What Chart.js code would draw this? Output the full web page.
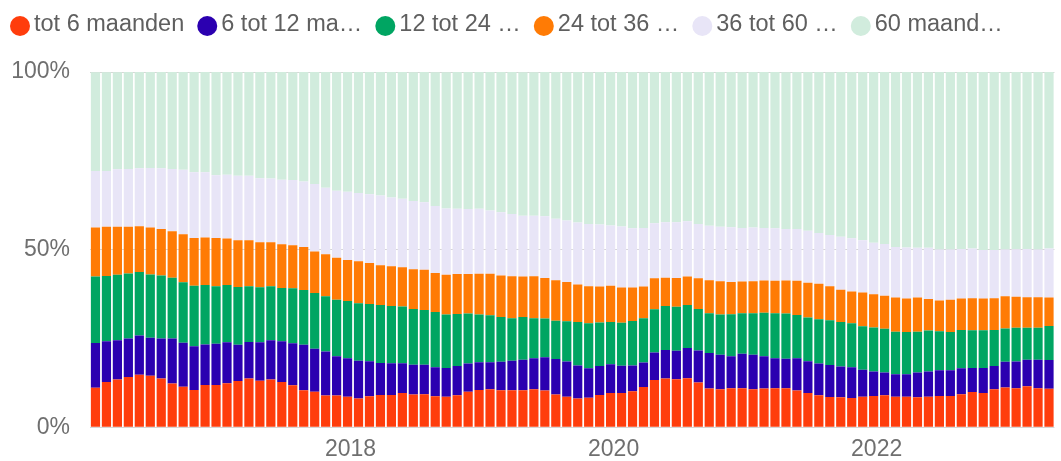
<!DOCTYPE html>
<html>
<head>
<meta charset="utf-8">
<script src="https://cdn.jsdelivr.net/npm/chart.js@4.4.0/dist/chart.umd.min.js"></script>
<style>
  html, body { margin: 0; padding: 0; background: #fff; }
  #wrap { width: 1061px; height: 461px; position: relative; }
</style>
</head>
<body>
<div id="wrap"><canvas id="grafiek"></canvas></div>
<script>
// aandeel per duurklasse (%), maandelijks vanaf februari 2016
const totZes = [11.1,12.7,13.4,14.1,14.8,14.5,13.7,12.3,11.4,10.5,
  11.9,11.9,12.4,13.0,13.7,13.1,13.4,12.7,11.8,10.4,
  10.0,8.9,8.9,8.6,8.1,8.7,9.1,9.1,9.6,9.2,
  9.3,8.7,8.6,9.0,10.0,10.5,10.7,10.4,10.4,10.4,
  10.7,10.3,9.2,8.6,8.1,8.3,9.1,9.6,9.6,10.1,
  11.3,13.3,13.7,13.5,13.8,12.6,10.9,10.7,11.0,11.0,
  10.7,10.9,11.0,11.0,10.3,9.6,9.0,8.5,8.4,8.2,
  8.6,8.8,9.0,8.6,8.6,8.4,8.6,8.8,8.8,9.3,
  9.9,9.6,10.7,11.2,11.0,11.5,11.0,10.8];
const zesTotTwaalf = [12.6,11.5,11.1,10.9,11.0,10.7,11.3,12.7,12.4,12.3,
  11.4,11.6,11.5,10.2,10.3,10.8,11.1,11.5,11.8,12.8,
  12.1,12.4,11.1,10.8,10.6,9.9,9.0,8.9,8.4,8.4,
  8.3,8.2,8.1,8.2,7.9,7.8,7.6,8.0,8.3,8.6,
  8.7,9.4,10.0,9.9,9.3,8.3,8.1,8.1,7.7,7.3,
  6.9,7.7,8.0,8.0,8.5,9.0,10.0,9.7,9.0,9.7,
  9.7,9.1,8.4,8.3,9.1,9.0,8.9,9.0,8.7,8.7,
  7.6,6.9,6.4,6.3,6.3,7.0,7.1,7.2,7.2,7.3,
  6.8,7.1,6.5,7.2,7.5,7.5,8.0,8.1];
const twaalfTot24 = [18.7,18.4,18.4,18.3,17.9,17.8,17.7,17.1,17.0,17.0,
  16.7,16.2,16.1,16.3,15.7,15.5,15.2,15.0,15.5,15.4,
  15.7,15.6,15.9,16.1,16.2,16.1,16.3,16.1,16.0,15.7,
  15.4,15.5,15.0,14.7,14.1,13.4,13.2,12.6,12.0,12.0,
  11.3,10.9,10.8,11.3,12.2,12.7,12.3,11.9,12.1,12.5,
  12.5,12.2,12.4,12.4,12.1,11.7,11.2,11.3,11.8,11.4,
  11.7,12.2,12.7,12.7,12.2,12.3,12.5,12.6,12.5,12.4,
  12.2,12.4,12.3,12.0,11.9,11.5,11.5,11.0,10.8,10.8,
  10.6,10.6,10.2,9.4,9.5,9.0,9.0,9.6];
const tot36 = [13.8,13.8,13.5,13.1,12.9,13.2,13.1,13.1,13.5,13.5,
  13.4,13.6,13.1,13.1,12.9,12.7,12.4,12.3,12.1,12.1,
  11.7,11.8,11.8,11.6,11.8,11.5,11.2,11.2,11.0,11.2,
  11.3,11.0,11.2,11.2,11.1,11.5,11.7,11.7,11.8,11.4,
  11.8,11.4,11.4,11.1,10.6,10.4,10.1,10.2,9.9,9.4,
  8.9,8.7,8.0,8.1,8.0,8.6,9.3,9.4,9.1,8.9,
  9.0,9.1,9.1,9.3,9.6,9.8,10.0,9.6,9.1,8.9,
  9.5,9.3,9.3,9.6,9.4,9.6,8.9,8.7,9.1,8.8,
  9.0,8.9,8.9,9.1,8.7,8.6,8.6,8.0];
const tot60 = [15.9,15.7,16.2,16.3,16.3,16.8,17.1,17.5,18.2,18.5,
  18.4,17.6,18.0,18.2,18.2,18.0,17.9,18.2,18.4,18.5,
  19.0,18.7,18.9,19.2,19.2,19.4,19.6,19.4,19.3,19.2,
  19.0,18.9,18.7,18.4,18.3,18.3,17.8,17.8,17.5,17.1,
  17.0,17.4,17.3,17.3,17.4,17.5,17.5,17.0,17.2,16.7,
  16.5,15.5,15.6,15.7,15.6,15.3,15.3,15.3,15.4,15.1,
  15.1,14.8,14.8,14.5,14.6,14.6,14.3,14.4,14.9,15.0,
  14.7,14.5,14.6,14.2,14.4,14.0,14.4,14.3,14.1,14.0,
  14.0,13.7,13.6,13.1,13.4,13.6,13.4,13.8];
const zestigPlus = [27.8,27.8,27.3,27.3,27.1,27.1,27.1,27.3,27.5,28.2,
  28.3,29.1,28.9,29.2,29.2,29.9,30.1,30.3,30.3,30.8,
  31.5,32.6,33.3,33.7,34.2,34.4,34.8,35.3,35.8,36.2,
  36.7,37.6,38.3,38.5,38.6,38.6,39.1,39.5,40.0,40.4,
  40.4,40.6,41.3,41.7,42.4,42.7,43.0,43.2,43.5,44.1,
  43.8,42.6,42.4,42.4,42.0,42.8,43.4,43.6,43.8,43.8,
  43.8,44.0,44.0,44.1,44.2,44.7,45.3,45.8,46.4,46.8,
  47.5,48.1,48.5,49.4,49.4,49.4,49.4,50.0,50.0,49.8,
  49.7,50.1,50.2,50.0,49.9,49.8,50.0,49.8];

const legendeLabels = ['tot 6 maanden', '6 tot 12 ma\u2026', '12 tot 24 \u2026', '24 tot 36 \u2026', '36 tot 60 \u2026', '60 maand\u2026'];
const kleuren = ['#ff3d0c', '#2b00b0', '#00a562', '#ff7b05', '#e8e5f7', '#d1ecdd'];
const jaarLabels = ['2018', '2020', '2022'];
const yLabels = ['0%', '50%', '100%'];

// categorieen: een per maand vanaf 2016-02
const maanden = [];
for (let i = 0; i < totZes.length; i++) {
  const m = 1 + i; // februari 2016 = index 0
  const jaar = 2016 + Math.floor(m / 12);
  const maand = (m % 12) + 1;
  maanden.push(jaar + '-' + String(maand).padStart(2, '0'));
}

const reeksen = [totZes, zesTotTwaalf, twaalfTot24, tot36, tot60, zestigPlus];

const legende = {
  id: 'legende',
  afterDraw(chart) {
    const ctx = chart.ctx;
    ctx.save();
    ctx.font = '23.5px "Liberation Sans", Arial, sans-serif';
    ctx.textBaseline = 'middle';
    ctx.textAlign = 'left';
    let x = 10;
    chart.data.datasets.forEach(ds => {
      ctx.fillStyle = ds.backgroundColor;
      ctx.beginPath();
      ctx.arc(x + 10, 26, 10, 0, Math.PI * 2);
      ctx.fill();
      ctx.fillStyle = '#5f5f5f';
      ctx.fillText(ds.label, x + 24, 25);
      x += 24 + ctx.measureText(ds.label).width + 13;
    });
    ctx.restore();
  }
};

new Chart(document.getElementById('grafiek'), {
  type: 'bar',
  data: {
    labels: maanden,
    datasets: reeksen.map((r, i) => ({
      label: legendeLabels[i],
      data: r,
      backgroundColor: kleuren[i],
      borderWidth: 0,
      barPercentage: 0.84,
      categoryPercentage: 1.0
    }))
  },
  options: {
    responsive: true,
    maintainAspectRatio: false,
    animation: false,
    layout: { padding: { top: 72, left: 12, right: 0, bottom: 0 } },
    plugins: {
      legend: { display: false },
      tooltip: { enabled: false }
    },
    scales: {
      x: {
        stacked: true,
        grid: { display: false, drawTicks: false },
        border: { display: false },
        afterFit: s => { s.height = 33; },
        ticks: {
          autoSkip: false,
          maxRotation: 0,
          padding: 12,
          labelOffset: 3,
          color: '#6f6f6f',
          font: { family: '"Liberation Sans", Arial, sans-serif', size: 23, lineHeight: 0.92 },
          callback: function(value) {
            const lab = this.getLabelForValue(value);
            const [jaar, maand] = lab.split('-');
            return (maand === '01' && jaarLabels.includes(jaar)) ? jaar : '';
          }
        }
      },
      y: {
        stacked: true,
        min: 0,
        max: 100,
        grid: { color: '#d6d6d6', drawTicks: false },
        border: { display: false },
        afterFit: s => { s.width = 78; },
        ticks: {
          stepSize: 50,
          padding: 20,
          color: '#6f6f6f',
          font: { family: '"Liberation Sans", Arial, sans-serif', size: 23 },
          callback: v => yLabels[v / 50]
        }
      }
    }
  },
  plugins: [legende]
});
</script>
</body>
</html>
